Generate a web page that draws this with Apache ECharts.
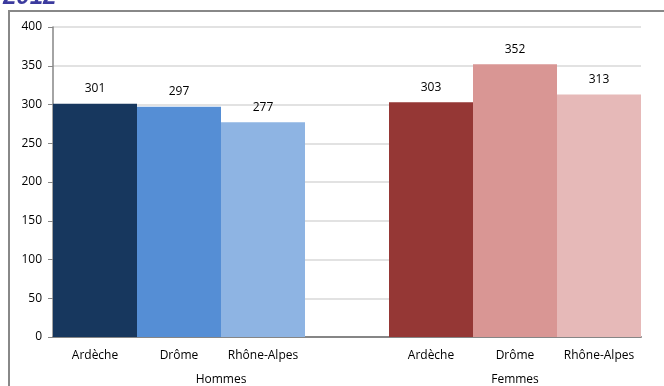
<!DOCTYPE html>
<html>
<head>
<meta charset="utf-8">
<script src="https://cdn.jsdelivr.net/npm/echarts@6/dist/echarts.min.js"></script>
<style>
  html, body { margin: 0; padding: 0; background: #fff; }
  #chart { width: 664px; height: 386px; }
</style>
</head>
<body>
<div id="chart"></div>
<script>
// 数据
const categories = ['Ardèche', 'Drôme', 'Rhône-Alpes', '', 'Ardèche', 'Drôme', 'Rhône-Alpes'];
const values = [301, 297, 277, '-', 303, 352, 313];
const barColors = ['#17375e', '#558ed5', '#8eb4e3', '#ffffff', '#953735', '#d99694', '#e6b9b8'];
const groups = ['Hommes', 'Femmes'];
const groupCenters = [2, 5.5];
const yTicks = [0, 400, 50];

const font = '"Open Sans", "Liberation Sans", sans-serif';

const chart = echarts.init(document.getElementById('chart'));
chart.setOption({
    animation: false,
    title: {
        text: '2012',
        left: -2,
        top: -20,
        textStyle: { color: '#3b3a9e', fontSize: 24, fontWeight: 'bold', fontStyle: 'italic', fontFamily: 'Liberation Sans, Arial, sans-serif' }
    },
    graphic: [{
        type: 'rect',
        shape: { x: 9, y: 11, width: 700, height: 420 },
        style: { fill: 'none', stroke: '#888888', lineWidth: 2 },
        silent: true
    }],
    grid: { left: 53, right: 23, top: 27, bottom: 49 },
    xAxis: [
        {
            type: 'category',
            data: categories,
            axisLine: { lineStyle: { color: '#868686', width: 2 } },
            axisTick: { show: false },
            axisLabel: { color: '#000', fontSize: 12, fontFamily: font, margin: 13, interval: 0 }
        },
        {
            type: 'value',
            position: 'bottom',
            min: 0,
            max: 7,
            interval: 0.5,
            axisLine: { show: false },
            axisTick: { show: false },
            splitLine: { show: false },
            axisLabel: {
                color: '#000', fontSize: 12, fontFamily: font, margin: 37,
                showMinLabel: true, showMaxLabel: true,
                formatter: v => {
                    const i = groupCenters.indexOf(v);
                    return i >= 0 ? groups[i] : '';
                }
            }
        }
    ],
    yAxis: {
        type: 'value',
        min: yTicks[0],
        max: yTicks[1],
        interval: yTicks[2],
        axisLine: { show: true, lineStyle: { color: '#868686', width: 1.5 } },
        axisTick: { show: true, length: 5, lineStyle: { color: '#868686' } },
        splitLine: { lineStyle: { color: '#d9d9d9', width: 1.5 } },
        axisLabel: { color: '#000', fontSize: 12, fontFamily: font, margin: 11 }
    },
    series: [{
        type: 'bar',
        xAxisIndex: 0,
        barWidth: '100%',
        data: values.map((v, i) => ({ value: v, itemStyle: { color: barColors[i] } })),
        label: {
            show: true,
            position: 'top',
            distance: 9,
            color: '#000',
            fontSize: 12,
            fontFamily: font
        }
    }]
});
</script>
</body>
</html>
